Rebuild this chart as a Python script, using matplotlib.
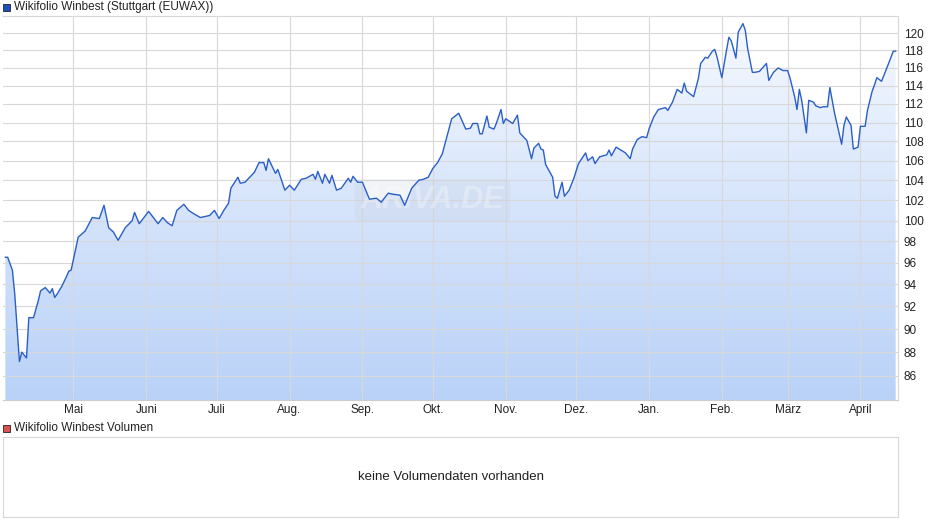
import numpy as np
import pandas as pd
import matplotlib.pyplot as plt
from matplotlib.patches import Rectangle
from matplotlib.ticker import FixedLocator, NullLocator
from matplotlib.colors import LinearSegmentedColormap

plt.rcParams['font.family'] = ['Liberation Sans', 'DejaVu Sans']

# day offsets from 2024-04-01 and prices
days = [1, 2, 4, 5, 7, 8, 10, 11, 13, 15, 16, 18, 20, 21, 22, 23, 25, 27, 28, 29,
        32, 35, 38, 41, 43, 45, 47, 49, 52, 55, 56, 58, 62, 66, 68, 70, 72, 74, 77, 79,
        81, 84, 88, 90, 92, 94, 96, 97, 100, 101, 103, 107, 109, 111, 112, 113, 116, 117, 120, 122,
        124, 127, 129, 132, 133, 134, 136, 137, 139, 140, 142, 144, 147, 148, 149, 151, 153, 156, 159, 161,
        164, 166, 169, 171, 174, 177, 179, 181, 183, 185, 187, 191, 194, 197, 199, 200, 202, 203, 204, 206,
        207, 209, 210, 212, 213, 214, 217, 219, 220, 223, 225, 226, 228, 229, 230, 231, 234, 235, 236, 238,
        239, 241, 243, 245, 248, 249, 251, 252, 254, 257, 258, 259, 261, 265, 267, 268, 270, 272, 274, 275,
        277, 279, 282, 283, 285, 287, 289, 290, 291, 294, 296, 297, 299, 300, 302, 303, 304, 306, 308, 309,
        310, 312, 313, 315, 316, 317, 319, 320, 322, 323, 325, 326, 328, 330, 332, 334, 335, 337, 338, 339,
        340, 342, 343, 345, 346, 348, 349, 351, 352, 354, 357, 358, 359, 361, 362, 364, 365, 367, 368, 370,
        371, 372, 374, 377, 379, 380]
prices = [96.5, 96.5, 95.3, 93.1, 87.2, 88.0, 87.5, 91.0, 91.0, 92.5, 93.4, 93.7, 93.2, 93.6, 92.8, 93.1, 93.8, 94.7, 95.2, 95.3,
          98.4, 99.0, 100.3, 100.2, 101.5, 99.3, 98.9, 98.1, 99.3, 100.0, 100.8, 99.7, 100.9, 99.7, 100.3, 99.8, 99.5, 101.0, 101.6, 101.0,
          100.7, 100.3, 100.5, 101.0, 100.2, 101.0, 101.7, 103.2, 104.3, 103.7, 103.8, 104.8, 105.8, 105.8, 105.0, 106.2, 104.7, 105.1, 103.0, 103.5,
          103.0, 104.1, 104.2, 104.6, 104.1, 104.9, 103.7, 104.6, 103.7, 104.5, 103.0, 103.2, 104.2, 103.8, 104.4, 103.8, 103.8, 102.1, 102.2, 101.8,
          102.7, 102.6, 102.5, 101.5, 103.2, 104.0, 104.1, 104.3, 105.2, 105.8, 106.7, 110.4, 111.0, 109.3, 109.4, 109.9, 109.9, 108.8, 108.8, 110.7,
          109.5, 109.3, 109.9, 111.4, 109.9, 110.4, 109.9, 110.8, 108.9, 108.1, 106.2, 107.3, 107.8, 107.2, 107.1, 105.6, 104.3, 102.4, 102.2, 103.8,
          102.4, 103.0, 104.2, 105.7, 106.8, 106.0, 106.4, 105.7, 106.4, 106.6, 107.1, 106.5, 107.4, 106.8, 106.2, 107.2, 108.2, 108.5, 108.4, 109.3,
          110.6, 111.4, 111.6, 111.3, 112.2, 113.6, 113.2, 114.3, 113.4, 112.8, 114.8, 116.5, 117.2, 117.1, 117.9, 118.1, 117.2, 114.9, 118.0, 119.5,
          119.1, 117.1, 120.1, 121.1, 120.3, 118.2, 115.5, 115.5, 115.6, 115.9, 116.5, 114.6, 115.5, 116.0, 115.7, 115.7, 114.9, 112.8, 111.4, 113.6,
          112.4, 108.9, 112.4, 112.2, 111.8, 111.6, 111.7, 111.7, 113.8, 111.0, 107.7, 109.7, 110.6, 109.7, 107.2, 107.4, 109.6, 109.6, 111.3, 113.4,
          114.1, 114.9, 114.5, 116.5, 117.9, 117.9]

month_labels = ['Mai', 'Juni', 'Juli', 'Aug.', 'Sep.', 'Okt.', 'Nov.', 'Dez.', 'Jan.', 'Feb.', 'März', 'April']
month_starts = pd.date_range('2024-05-01', periods=12, freq='MS')
y_ticks = list(range(86, 121, 2))

dates = pd.Timestamp('2024-04-01') + pd.to_timedelta(days, unit='D')
x = dates.to_numpy()

fig = plt.figure(figsize=(9.4, 5.26), dpi=100)
ax = fig.add_axes([3/940, 126/526, 895/940, 384/526])

ylo, yhi = 84.0, 122.0
ax.set_yscale('log')
ax.set_ylim(ylo, yhi)
ax.set_xlim(pd.Timestamp('2024-04-01'), pd.Timestamp('2025-04-17'))

# gradient fill below the line
grad = np.linspace(0, 1, 256).reshape(-1, 1)
cmap = LinearSegmentedColormap.from_list('g', ['#bad2f8', '#f7faff'])
xl = ax.get_xlim()
img = ax.imshow(grad, cmap=cmap, aspect='auto', origin='lower',
                extent=[xl[0], xl[1], ylo, 121.3], zorder=1)
poly = ax.fill_between(x, prices, ylo, color='none', lw=0)
img.set_clip_path(poly.get_paths()[0], transform=ax.transData)
ax.set_xlim(xl)
ax.set_ylim(ylo, yhi)

ax.plot(x, prices, color='#2a5fc7', lw=1.0, zorder=3)

ax.yaxis.set_major_locator(FixedLocator(y_ticks))
ax.yaxis.set_minor_locator(NullLocator())
ax.set_yticklabels([str(v) for v in y_ticks])
ax.yaxis.tick_right()
ax.set_xticks(month_starts)
ax.set_xticklabels(month_labels)
ax.tick_params(axis='both', length=0, labelsize=8.5, colors='#222222')
ax.tick_params(axis='y', pad=4)
ax.tick_params(axis='x', pad=3)
ax.grid(True, color='#d8d8d8', lw=0.8, zorder=2)
for s in ax.spines.values():
    s.set_color('#d8d8d8')
    s.set_linewidth(0.8)
ax.spines['left'].set_visible(False)
ax.spines['bottom'].set_color('#cccccc')

ax.text(0.48, 0.52, 'ARIVA.DE', transform=ax.transAxes, fontsize=22, fontweight='bold',
        fontstyle='italic', color='white', alpha=0.3, ha='center', va='center', zorder=2,
        bbox=dict(boxstyle='round,pad=0.2', fc='#c8d0dc', ec='none', alpha=0.25))

# legends
fig.patches.append(Rectangle((3/940, 1-11/526), 7/940, 7/526, transform=fig.transFigure,
                             facecolor='#1f4fb8', edgecolor='#222222', lw=0.6))
fig.text(14/940, 1-7/526, 'Wikifolio Winbest (Stuttgart (EUWAX))', fontsize=8.5, va='center', color='#222222')
fig.patches.append(Rectangle((3/940, 1-432/526), 7/940, 7/526, transform=fig.transFigure,
                             facecolor='#d9534f', edgecolor='#222222', lw=0.6))
fig.text(14/940, 1-428/526, 'Wikifolio Winbest Volumen', fontsize=8.5, va='center', color='#222222')

# volume panel
vax = fig.add_axes([3/940, 9/526, 895/940, 80/526])
vax.set_xticks([])
vax.set_yticks([])
for s in vax.spines.values():
    s.set_color('#d8d8d8')
    s.set_linewidth(0.8)
vax.text(0.5, 0.5, 'keine Volumendaten vorhanden', transform=vax.transAxes,
         ha='center', va='center', fontsize=9.5, color='#222222')

fig.savefig('out.png', dpi=100)
